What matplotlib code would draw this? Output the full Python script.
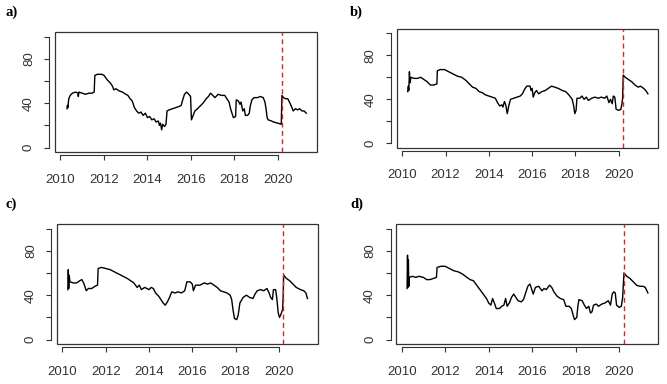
import matplotlib
matplotlib.use("Agg")
import matplotlib.pyplot as plt
from matplotlib.patches import Rectangle

# Data (decimal year, value)
years_a = [2010.30, 2010.32, 2010.34, 2010.38, 2010.45, 2010.55, 2010.70, 2010.80, 2010.82, 2010.85,
           2011.00, 2011.15, 2011.30, 2011.45, 2011.55, 2011.58, 2011.70, 2011.90, 2012.00, 2012.15,
           2012.30, 2012.40, 2012.45, 2012.55, 2012.70, 2012.85, 2013.00, 2013.10, 2013.20, 2013.30,
           2013.40, 2013.50, 2013.60, 2013.70, 2013.80, 2013.90, 2014.00, 2014.10, 2014.20, 2014.30,
           2014.40, 2014.50, 2014.55, 2014.60, 2014.65, 2014.70, 2014.78, 2014.85, 2014.90, 2015.00,
           2015.15, 2015.30, 2015.45, 2015.55, 2015.62, 2015.70, 2015.80, 2015.90, 2015.98, 2016.02,
           2016.08, 2016.18, 2016.30, 2016.45, 2016.55, 2016.70, 2016.80, 2016.90, 2017.00, 2017.10,
           2017.25, 2017.40, 2017.55, 2017.65, 2017.75, 2017.82, 2017.90, 2017.95, 2018.05, 2018.08,
           2018.18, 2018.25, 2018.30, 2018.38, 2018.45, 2018.50, 2018.60, 2018.68, 2018.72, 2018.80,
           2018.90, 2019.05, 2019.20, 2019.32, 2019.40, 2019.45, 2019.50, 2019.55, 2019.70, 2019.80,
           2020.00, 2020.15, 2020.18, 2020.25, 2020.35, 2020.45, 2020.55, 2020.62, 2020.70, 2020.80,
           2020.90, 2021.00, 2021.10, 2021.20, 2021.30]
vals_a = [35, 38, 36, 44, 47, 49, 50, 49, 46, 50,
          49, 48, 49, 49, 50, 65, 66, 66, 65, 61,
          58, 55, 52, 53, 51, 50, 48, 47, 44, 42,
          36, 33, 31, 32, 29, 31, 27, 28, 25, 26,
          23, 24, 20, 22, 16, 21, 19, 21, 33, 34,
          35, 36, 37, 38, 43, 48, 50, 48, 46, 25,
          28, 33, 35, 38, 40, 44, 46, 49, 47, 45,
          48, 47, 47, 44, 41, 35, 30, 27, 28, 43,
          42, 39, 41, 33, 35, 29, 29, 31, 37, 43,
          45, 45, 46, 45, 41, 35, 27, 25, 24, 23,
          22, 21, 47, 45, 44, 44, 40, 37, 33, 35,
          34, 35, 33, 33, 31]

years_b = [2010.25, 2010.28, 2010.30, 2010.33, 2010.36, 2010.40, 2010.55, 2010.70, 2010.85, 2011.00,
           2011.15, 2011.30, 2011.45, 2011.60, 2011.62, 2011.75, 2011.95, 2012.15, 2012.35, 2012.55,
           2012.75, 2012.95, 2013.10, 2013.25, 2013.40, 2013.55, 2013.70, 2013.85, 2014.00, 2014.15,
           2014.30, 2014.40, 2014.50, 2014.60, 2014.65, 2014.72, 2014.78, 2014.85, 2014.92, 2015.00,
           2015.15, 2015.30, 2015.45, 2015.55, 2015.65, 2015.75, 2015.90, 2015.95, 2016.00, 2016.05,
           2016.12, 2016.20, 2016.30, 2016.45, 2016.60, 2016.75, 2016.90, 2017.05, 2017.20, 2017.40,
           2017.55, 2017.70, 2017.85, 2017.92, 2017.97, 2018.03, 2018.07, 2018.20, 2018.30, 2018.40,
           2018.50, 2018.60, 2018.75, 2018.90, 2019.05, 2019.20, 2019.35, 2019.45, 2019.55, 2019.62,
           2019.70, 2019.75, 2019.82, 2019.88, 2020.00, 2020.10, 2020.15, 2020.18, 2020.21, 2020.30,
           2020.45, 2020.60, 2020.75, 2020.90, 2021.00, 2021.15, 2021.25, 2021.35]
vals_b = [47, 52, 48, 65, 55, 60, 59, 59, 60, 58,
          56, 53, 53, 54, 66, 67, 67, 65, 63, 61,
          60, 57, 54, 51, 50, 47, 46, 44, 43, 42,
          41, 37, 34, 35, 33, 38, 35, 27, 34, 40,
          41, 42, 43, 45, 49, 52, 52, 48, 50, 42,
          46, 48, 45, 47, 48, 50, 52, 51, 50, 48,
          47, 44, 40, 34, 27, 30, 41, 41, 43, 40,
          42, 39, 41, 42, 41, 42, 41, 43, 37, 40,
          36, 43, 42, 31, 30, 31, 36, 41, 62, 60,
          58, 56, 53, 51, 52, 50, 48, 45]

years_c = [2010.25, 2010.27, 2010.29, 2010.31, 2010.35, 2010.50, 2010.65, 2010.80, 2010.90, 2011.00,
           2011.10, 2011.20, 2011.35, 2011.50, 2011.62, 2011.65, 2011.80, 2012.00, 2012.20, 2012.40,
           2012.60, 2012.80, 2013.00, 2013.15, 2013.30, 2013.45, 2013.55, 2013.65, 2013.80, 2014.00,
           2014.10, 2014.20, 2014.30, 2014.45, 2014.55, 2014.65, 2014.75, 2014.85, 2014.95, 2015.05,
           2015.20, 2015.35, 2015.50, 2015.65, 2015.75, 2015.90, 2016.00, 2016.05, 2016.15, 2016.35,
           2016.55, 2016.70, 2016.85, 2017.00, 2017.15, 2017.30, 2017.45, 2017.60, 2017.75, 2017.82,
           2017.88, 2017.95, 2018.05, 2018.12, 2018.20, 2018.35, 2018.50, 2018.65, 2018.80, 2018.90,
           2019.00, 2019.15, 2019.30, 2019.45, 2019.55, 2019.62, 2019.70, 2019.75, 2019.85, 2019.90,
           2019.97, 2020.03, 2020.10, 2020.17, 2020.20, 2020.22, 2020.35, 2020.50, 2020.65, 2020.80,
           2021.00, 2021.15, 2021.25, 2021.32]
vals_c = [45, 63, 46, 58, 52, 51, 51, 53, 54, 50,
          44, 46, 46, 48, 49, 64, 65, 64, 63, 61,
          59, 57, 55, 53, 51, 47, 49, 45, 47, 45,
          47, 46, 42, 39, 36, 33, 31, 34, 38, 43,
          42, 43, 42, 44, 52, 52, 50, 44, 49, 49,
          51, 50, 51, 49, 47, 44, 43, 42, 40, 36,
          27, 19, 18, 22, 33, 38, 40, 38, 37, 41,
          44, 45, 44, 46, 42, 38, 36, 45, 45, 38,
          24, 20, 23, 27, 40, 58, 55, 53, 50, 47,
          45, 44, 42, 37]

years_d = [2010.25, 2010.27, 2010.29, 2010.31, 2010.33, 2010.35, 2010.50, 2010.65, 2010.80, 2011.00,
           2011.15, 2011.30, 2011.45, 2011.60, 2011.63, 2011.80, 2012.00, 2012.20, 2012.40, 2012.60,
           2012.80, 2013.00, 2013.15, 2013.30, 2013.45, 2013.60, 2013.75, 2013.90, 2014.00, 2014.10,
           2014.18, 2014.28, 2014.35, 2014.50, 2014.60, 2014.70, 2014.78, 2014.85, 2014.95, 2015.05,
           2015.15, 2015.25, 2015.35, 2015.50, 2015.60, 2015.70, 2015.80, 2015.90, 2016.00, 2016.05,
           2016.15, 2016.30, 2016.45, 2016.55, 2016.65, 2016.80, 2016.90, 2017.00, 2017.15, 2017.30,
           2017.45, 2017.55, 2017.70, 2017.80, 2017.90, 2017.95, 2018.05, 2018.10, 2018.15, 2018.30,
           2018.40, 2018.50, 2018.60, 2018.68, 2018.75, 2018.82, 2018.95, 2019.05, 2019.20, 2019.35,
           2019.50, 2019.60, 2019.68, 2019.75, 2019.82, 2019.88, 2020.00, 2020.10, 2020.16, 2020.22,
           2020.35, 2020.50, 2020.65, 2020.80, 2020.95, 2021.10, 2021.20, 2021.32]
vals_d = [46, 76, 47, 72, 48, 56, 57, 56, 57, 56,
          54, 54, 55, 56, 65, 66, 66, 64, 62, 61,
          59, 56, 54, 53, 49, 45, 41, 37, 33, 31,
          37, 32, 28, 28, 30, 31, 37, 30, 33, 38,
          41, 38, 35, 34, 36, 42, 48, 50, 44, 41,
          47, 48, 44, 46, 45, 49, 47, 43, 39, 37,
          36, 30, 30, 28, 21, 18, 20, 30, 36, 35,
          31, 28, 30, 24, 25, 31, 32, 30, 32, 33,
          35, 31, 41, 43, 42, 31, 29, 30, 38, 60,
          57, 55, 52, 49, 48, 48, 47, 42]

panel_labels = ["a)", "b)", "c)", "d)"]
break_year = 2020.2

series = [(years_a, vals_a), (years_b, vals_b), (years_c, vals_c), (years_d, vals_d)]
# axes boxes in figure fraction: left, bottom, width, height
boxes = [[0.0825, 0.604, 0.393, 0.3125],
         [0.595, 0.615, 0.391, 0.31],
         [0.0855, 0.104, 0.391, 0.3125],
         [0.594, 0.104, 0.393, 0.3125]]
label_pos = [(0.008, 0.985), (0.525, 0.985), (0.008, 0.485), (0.525, 0.485)]

plt.rcParams['font.family'] = ['Liberation Sans', 'DejaVu Sans']

fig = plt.figure(figsize=(6.67, 3.84), dpi=100)

for (x, y), box, lab, lp in zip(series, boxes, panel_labels, label_pos):
    ax = fig.add_axes(box)
    ax.plot(x, y, color="black", lw=1.0)
    ax.axvline(break_year, color="#d02828", lw=1.0, ls=(0, (3.5, 2.5)))
    ax.set_xlim(2009.75, 2021.8)
    ax.set_ylim(-4, 104)

    # R-style detached axes with a full box
    for s in ["top", "right"]:
        ax.spines[s].set_visible(False)
    ax.spines["left"].set_position(("outward", 4))
    ax.spines["left"].set_bounds(0, 100)
    ax.spines["bottom"].set_position(("outward", 2))
    ax.spines["bottom"].set_bounds(2010, 2020)
    for s in ["left", "bottom"]:
        ax.spines[s].set_linewidth(0.8)
        ax.spines[s].set_color("#333333")
    ax.add_patch(Rectangle((0, 0), 1, 1, transform=ax.transAxes, fill=False,
                           lw=0.9, edgecolor="#333333", clip_on=False))

    ax.set_xticks(range(2010, 2021, 2))
    ax.set_yticks(range(0, 101, 20))
    ax.set_yticklabels(["0", "", "40", "", "80", ""], rotation=90, va="center")
    ax.tick_params(axis="x", length=3.5, width=0.8, pad=10, labelsize=9.5,
                   colors="#333333")
    ax.tick_params(axis="y", length=3.5, width=0.8, pad=7, labelsize=9.5,
                   colors="#333333")

    fig.text(lp[0], lp[1], lab, fontsize=10.5, fontweight="bold",
             family=["Liberation Serif", "DejaVu Serif"], va="top", ha="left")

fig.savefig("out.png", dpi=100)
